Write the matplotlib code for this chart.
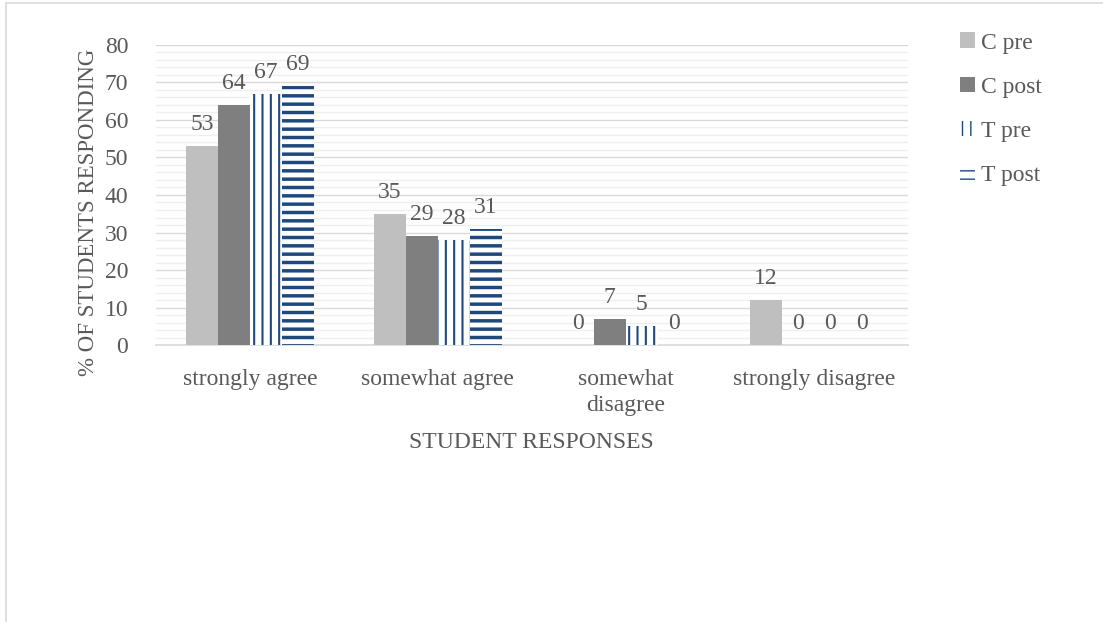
import numpy as np
import matplotlib
matplotlib.use('Agg')
import matplotlib.pyplot as plt
from matplotlib.patches import Patch
from matplotlib.lines import Line2D

categories = ['strongly agree', 'somewhat agree', 'somewhat\ndisagree', 'strongly disagree']
series_names = ['C pre', 'C post', 'T pre', 'T post']
c_pre = [53, 35, 0, 12]
c_post = [64, 29, 7, 0]
t_pre = [67, 28, 5, 0]
t_post = [69, 31, 0, 0]

NAVY = '#1f497d'
TXT = '#595959'
FS = 17

plt.rcParams['font.family'] = ['Liberation Serif', 'DejaVu Serif']


def hatched_bar(ax, xs, vals, width, hatch, lw):
    with plt.rc_context({'hatch.linewidth': lw}):
        b = ax.bar(xs, vals, width, color='white', edgecolor=NAVY, hatch=hatch, linewidth=0, zorder=3)
        for r in b:
            if hasattr(r, 'set_hatch_linewidth'):
                r.set_hatch_linewidth(lw)
    return b


fig = plt.figure(figsize=(11.03, 6.22), dpi=100)
ax = fig.add_axes([0.1414, 0.4453, 0.6816, 0.4824])

x = np.arange(len(categories))
w = 0.17
offsets = [-1.5 * w, -0.5 * w, 0.5 * w, 1.5 * w]
all_vals = [c_pre, c_post, t_pre, t_post]

ax.bar(x + offsets[0], c_pre, w, color='#bfbfbf', linewidth=0, zorder=3)
ax.bar(x + offsets[1], c_post, w, color='#7f7f7f', linewidth=0, zorder=3)
hatched_bar(ax, x + offsets[2], t_pre, w, '||', 1.5)
hatched_bar(ax, x + offsets[3], t_post, w, '--', 2.5)

for vals, off in zip(all_vals, offsets):
    for xi, v in zip(x, vals):
        ax.annotate(str(v), (xi + off, v), xytext=(0, 8), textcoords='offset points',
                    ha='center', va='bottom', fontsize=FS, color=TXT)

ax.set_ylim(0, 80)
ax.set_xlim(-0.5, 3.5)
ax.set_yticks(range(0, 81, 10))
ax.set_yticks(range(0, 81, 2), minor=True)
ax.grid(axis='y', which='major', color='#d9d9d9', linewidth=1, zorder=0)
ax.grid(axis='y', which='minor', color='#efefef', linewidth=1, zorder=0)
ax.set_xticks(x)
ax.set_xticklabels(categories, fontsize=FS, color=TXT, linespacing=1.35)
ax.tick_params(axis='y', labelsize=FS, labelcolor=TXT, length=0, pad=20)
ax.tick_params(axis='x', length=0, pad=17)
ax.tick_params(which='minor', length=0)
for s in ['top', 'right', 'left']:
    ax.spines[s].set_visible(False)
ax.spines['bottom'].set_color('#d9d9d9')
ax.spines['bottom'].set_linewidth(1.2)

ax.set_ylabel('% OF STUDENTS RESPONDING', fontsize=16.5, color=TXT)
ax.yaxis.set_label_coords(-0.076, 0.443)
ax.set_xlabel('STUDENT RESPONSES', fontsize=FS, color=TXT, labelpad=11)

with plt.rc_context({'hatch.linewidth': 2.2}):
    handles = [
        Patch(facecolor='#bfbfbf', linewidth=0),
        Patch(facecolor='#7f7f7f', linewidth=0),
        Patch(facecolor='white', edgecolor=NAVY, hatch='||', linewidth=0),
        Patch(facecolor='white', edgecolor=NAVY, hatch='--', linewidth=0),
    ]
leg = fig.legend(handles, series_names, loc='upper left', bbox_to_anchor=(0.851, 0.982),
                 frameon=False, fontsize=FS, handlelength=0.65, handleheight=0.65,
                 handletextpad=0.25, labelspacing=0.97, labelcolor=TXT)

# outer border
fig.add_artist(Line2D([6 / 1103, 6 / 1103], [0, 1 - 2.5 / 622], transform=fig.transFigure,
                      color='#d9d9d9', linewidth=1.2))
fig.add_artist(Line2D([6 / 1103, 1], [1 - 2.5 / 622, 1 - 2.5 / 622], transform=fig.transFigure,
                      color='#d9d9d9', linewidth=1.2))

fig.savefig('out.png', dpi=100)
